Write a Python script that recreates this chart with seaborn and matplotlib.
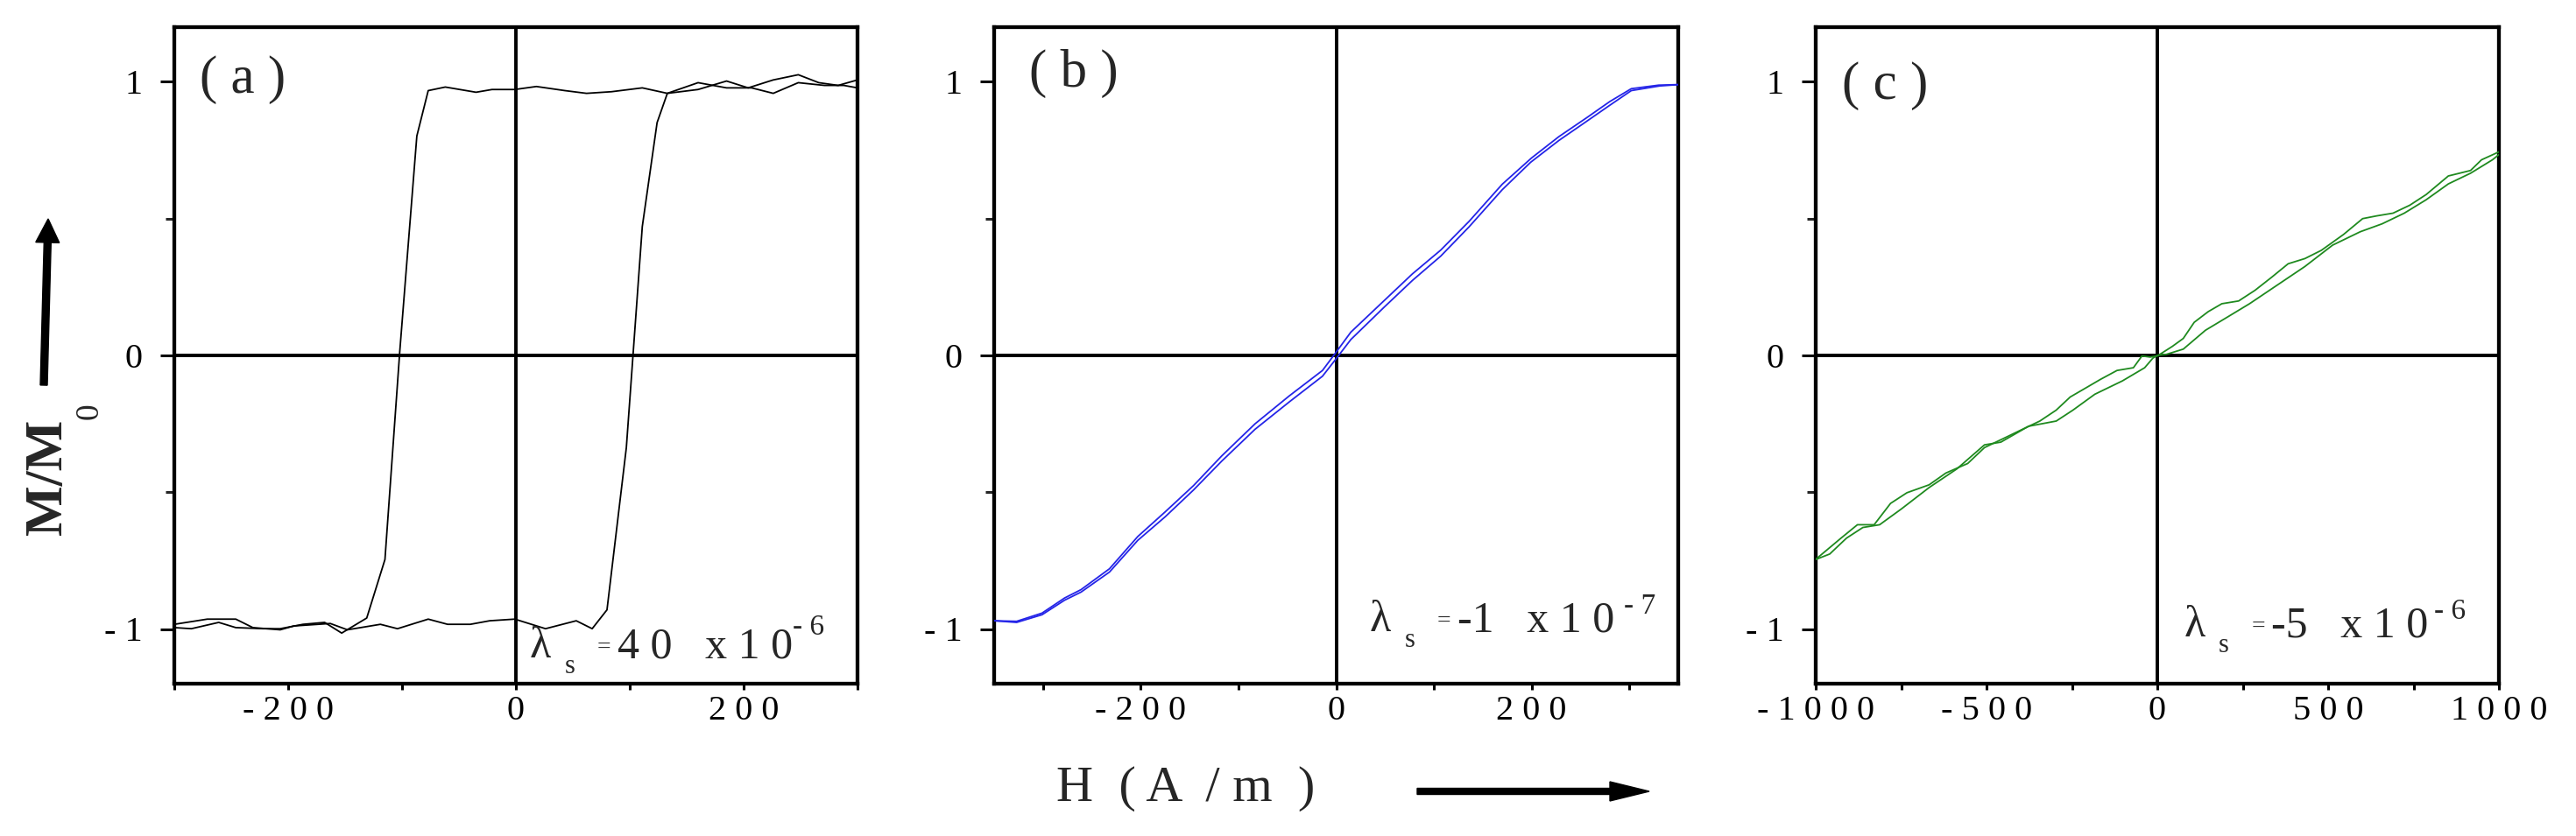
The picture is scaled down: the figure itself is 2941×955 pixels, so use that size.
import matplotlib
matplotlib.use("Agg")
import matplotlib.pyplot as plt
import seaborn as sns
from matplotlib.patches import FancyArrow

# ---------------- data ----------------
# panel (a): square hysteresis loop
HA_UP = [-300, -271, -246, -231, -207, -195, -163, -148, -119, -104, -77, -60, -40, -23, -1,
         26, 53, 67, 80, 97, 111, 124, 133, 160, 185, 204, 226, 248, 266, 283, 300]
MA_UP = [-0.983, -0.964, -0.964, -0.995, -1.003, -0.989, -0.980, -1.003, -0.983, -0.999, -0.964,
         -0.983, -0.983, -0.970, -0.964, -0.999, -0.970, -0.999, -0.930, -0.337, 0.471, 0.851,
         0.958, 0.972, 1.003, 0.978, 1.007, 1.026, 0.997, 0.987, 1.007]
HA_DOWN = [300, 288, 271, 248, 226, 207, 185, 160, 133, 111, 84, 62, 43, 18, -1, -21, -35, -62,
           -77, -87, -102, -115, -131, -153, -168, -187, -207, -222, -246, -261, -285, -300]
MA_DOWN = [0.978, 0.987, 0.987, 0.997, 0.958, 0.978, 0.978, 0.997, 0.958, 0.978, 0.964, 0.958,
           0.968, 0.983, 0.972, 0.972, 0.962, 0.981, 0.968, 0.802, 0.014, -0.746, -0.960, -1.015,
           -0.976, -0.983, -0.999, -0.999, -0.995, -0.976, -0.999, -0.995]

# panel (b): soft S-shaped loop
HB_DOWN = [350, 330, 302, 280, 256, 228, 200, 170, 136, 107, 78, 49, 15, 0, -14, -48, -83, -117,
           -146, -175, -203, -232, -261, -278, -301, -327, -350]
MB_DOWN = [0.990, 0.988, 0.975, 0.928, 0.868, 0.800, 0.722, 0.626, 0.490, 0.385, 0.298, 0.200,
           0.085, 0.012, -0.055, -0.148, -0.250, -0.367, -0.476, -0.572, -0.662, -0.780, -0.856,
           -0.887, -0.942, -0.972, -0.970]
HB_UP = [-350, -327, -301, -278, -261, -232, -203, -175, -146, -117, -83, -48, -14, 0, 15, 49, 78,
         107, 136, 170, 199, 228, 256, 279, 302, 331, 351]
MB_UP = [-0.970, -0.976, -0.948, -0.895, -0.865, -0.792, -0.676, -0.590, -0.492, -0.386, -0.270,
         -0.170, -0.076, -0.012, 0.058, 0.176, 0.274, 0.363, 0.470, 0.606, 0.706, 0.786, 0.855,
         0.912, 0.968, 0.985, 0.990]

# panel (c): nearly linear noisy loop
HC_DOWN = [1000, 949, 917, 852, 787, 739, 690, 642, 601, 545, 480, 432, 383, 335, 286, 238, 189,
           149, 108, 76, 44, 0, -21, -45, -70, -118, -167, -215, -255, -296, -344, -393, -441,
           -506, -555, -619, -668, -733, -781, -829, -878, -926, -991, -1000]
MC_DOWN = [0.744, 0.715, 0.676, 0.656, 0.588, 0.549, 0.520, 0.510, 0.500, 0.442, 0.384, 0.354,
           0.335, 0.286, 0.238, 0.199, 0.189, 0.160, 0.121, 0.062, 0.033, -0.002, -0.006, -0.002,
           -0.045, -0.055, -0.088, -0.123, -0.152, -0.200, -0.240, -0.269, -0.298, -0.337,
           -0.395, -0.430, -0.473, -0.502, -0.541, -0.619, -0.619, -0.668, -0.736, -0.746]
HC_UP = [-1000, -959, -910, -862, -813, -749, -668, -587, -506, -458, -377, -296, -247, -183,
         -102, -37, -13, 0, 27, 76, 141, 205, 270, 351, 432, 513, 594, 658, 723, 787, 852, 917,
         981, 1000]
MC_UP = [-0.746, -0.726, -0.668, -0.629, -0.619, -0.561, -0.483, -0.415, -0.327, -0.317, -0.259,
         -0.240, -0.200, -0.142, -0.093, -0.045, -0.010, 0.000, 0.004, 0.023, 0.092, 0.140,
         0.189, 0.257, 0.325, 0.403, 0.452, 0.481, 0.520, 0.569, 0.627, 0.666, 0.715, 0.734]

# ticks and labels
XT_A = [-200, 0, 200]
XL_A = ["- 2 0 0", "0", "2 0 0"]
XM_A = [-300, -100, 100, 300]
XT_B = [-200, 0, 200]
XL_B = ["- 2 0 0", "0", "2 0 0"]
XM_B = [-300, -100, 100, 300]
XT_C = [-1000, -500, 0, 500, 1000]
XL_C = ["- 1 0 0 0", "- 5 0 0", "0", "5 0 0", "1 0 0 0"]
XM_C = [-750, -250, 250, 750]
YT = [-1, 0, 1]
YL = ["- 1", "0", "1"]
YM = [-0.5, 0.5]

PANEL_LABELS = ["( a )", "( b )", "( c )"]
LAMBDA_VALUES = ["4 0", "-1", "-5"]
LAMBDA_EXPS = ["- 6", "- 7", "- 6"]
COLORS = ["#000000", "#2424e8", "#1f8a1f"]

# ---------------- style ----------------
sns.set_style("ticks")
plt.rcParams['font.family'] = ['Liberation Serif', 'DejaVu Serif']
plt.rcParams['axes.edgecolor'] = 'black'

W, H = 2941, 955
fig = plt.figure(figsize=(W / 100, H / 100), dpi=100)


def add_axes(l, r, t=31, b=781):
    return fig.add_axes([l / W, (H - b) / H, (r - l) / W, (b - t) / H])


axes = [add_axes(199, 979), add_axes(1135, 1916), add_axes(2073, 2853)]

panels = [
    dict(br=[(HA_UP, MA_UP), (HA_DOWN, MA_DOWN)], xlim=(-300, 300), xt=XT_A, xl=XL_A, xm=XM_A,
         lab=(0.037, 0.920), lam=(0.5205, 0.040), exp=(0.905, 0.0747)),
    dict(br=[(HB_UP, MB_UP), (HB_DOWN, MB_DOWN)], xlim=(-350, 350), xt=XT_B, xl=XL_B, xm=XM_B,
         lab=(0.051, 0.929), lam=(0.5493, 0.080), exp=(0.9206, 0.1067)),
    dict(br=[(HC_UP, MC_UP), (HC_DOWN, MC_DOWN)], xlim=(-1000, 1000), xt=XT_C, xl=XL_C, xm=XM_C,
         lab=(0.038, 0.911), lam=(0.539, 0.072), exp=(0.905, 0.0987)),
]

for i, (ax, p) in enumerate(zip(axes, panels)):
    ax.axhline(0, color='k', lw=2.8, zorder=1)
    ax.axvline(0, color='k', lw=2.8, zorder=1)
    for hx, my in p['br']:
        sns.lineplot(x=hx, y=my, ax=ax, sort=False, estimator=None,
                     color=COLORS[i], lw=1.3, zorder=3)
    ax.set_xlim(*p['xlim'])
    ax.set_ylim(-1.2, 1.2)
    ax.set_xticks(p['xt'], labels=p['xl'])
    ax.set_xticks(p['xm'], minor=True)
    ax.set_yticks(YT, labels=YL)
    ax.set_yticks(YM, minor=True)
    ax.set_xlabel('')
    ax.set_ylabel('')
    for s in ax.spines.values():
        s.set_visible(True)
        s.set_linewidth(3.1)
        s.set_color('k')
    ax.tick_params(axis='x', which='both', direction='out', length=5, width=2.2,
                   top=False, bottom=True, labelsize=29, pad=4, colors='k')
    ax.tick_params(axis='y', which='major', direction='out', length=11.5, width=2.2,
                   left=True, right=False, labelsize=29, pad=15, colors='k')
    ax.tick_params(axis='y', which='minor', direction='out', length=7, width=2.2,
                   left=True, right=False)

    # panel letter
    ax.text(p['lab'][0], p['lab'][1], PANEL_LABELS[i], transform=ax.transAxes,
            fontsize=44, ha='left', va='center')

    # lambda_s annotation
    x0, y0 = p['lam']
    ax.text(x0, y0, "λ", transform=ax.transAxes, fontsize=36, ha='left', va='baseline')
    ax.text(x0 + 0.051, y0 - 0.024, "s", transform=ax.transAxes, fontsize=22,
            ha='left', va='baseline')
    ax.text(x0 + 0.0987, y0 + 0.0147, "=", transform=ax.transAxes, fontsize=20,
            ha='left', va='center')
    ax.text(x0 + 0.128, y0, LAMBDA_VALUES[i] + "   x 1 0", transform=ax.transAxes,
            fontsize=36, ha='left', va='baseline')
    ax.text(p['exp'][0], p['exp'][1], LAMBDA_EXPS[i], transform=ax.transAxes,
            fontsize=24, ha='left', va='baseline')

# axis titles
fig.text(1206 / W, (H - 915) / H, "H  ( A  / m  )", fontsize=42, ha='left', va='baseline')
fig.text(55 / W, (H - 545) / H, "M/M", rotation=90, fontsize=44, fontweight='bold',
         ha='center', va='center')
fig.text(102 / W, (H - 470) / H, "0", rotation=90, fontsize=27, ha='center', va='center')

# arrows
fig.add_artist(FancyArrow(0.50, 5.15, 0.05, 1.90, width=0.08, head_width=0.27,
                          head_length=0.27, length_includes_head=True, color='k',
                          transform=fig.dpi_scale_trans))
fig.add_artist(FancyArrow(16.18, 0.51, 2.65, 0.0, width=0.07, head_width=0.22,
                          head_length=0.45, length_includes_head=True, color='k',
                          transform=fig.dpi_scale_trans))

fig.savefig("out.png", dpi=100)
